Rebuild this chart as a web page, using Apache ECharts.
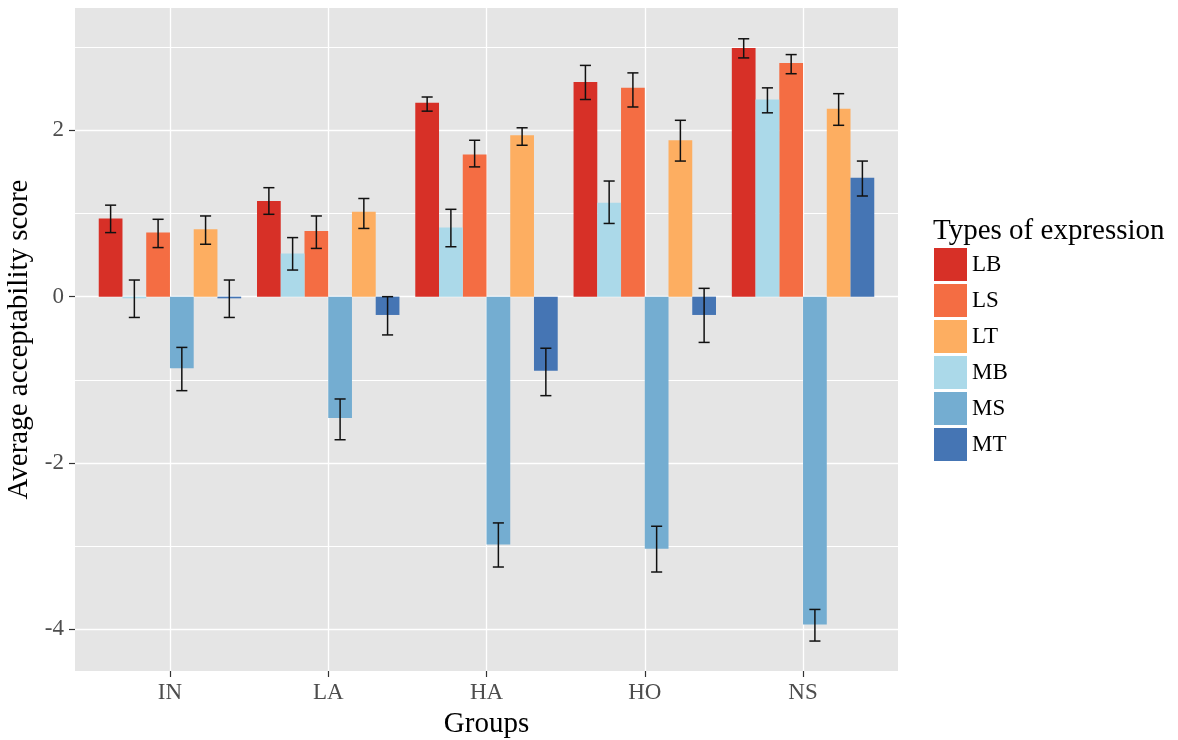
<!DOCTYPE html>
<html>
<head>
<meta charset="utf-8">
<title>Average acceptability score by group</title>
<script src="https://cdn.jsdelivr.net/npm/echarts@6/dist/echarts.min.js"></script>
<style>
    html, body { margin: 0; padding: 0; background: #ffffff; }
    #main { width: 1178px; height: 740px; }
</style>
</head>
<body>
<div id="main"></div>
<script>
    "use strict";
    // groups on the x axis
    var groups = ['IN', 'LA', 'HA', 'HO', 'NS'];
    // legend order / dodge order inside a group
    var legendTypes = ['LB', 'LS', 'LT', 'MB', 'MS', 'MT'];
    var dodgeTypes = ['LB', 'MB', 'LS', 'MS', 'LT', 'MT'];

    // mean scores per type (IN, LA, HA, HO, NS)
    var meanLB = [0.94, 1.15, 2.33, 2.58, 2.99];
    var meanLS = [0.77, 0.79, 1.71, 2.51, 2.81];
    var meanLT = [0.81, 1.02, 1.94, 1.88, 2.26];
    var meanMB = [-0.02, 0.52, 0.83, 1.13, 2.37];
    var meanMS = [-0.86, -1.46, -2.98, -3.03, -3.94];
    var meanMT = [-0.02, -0.22, -0.89, -0.22, 1.43];

    // error bar lower / upper ends
    var lowLB = [0.77, 0.99, 2.23, 2.37, 2.87];
    var highLB = [1.10, 1.31, 2.40, 2.78, 3.10];
    var lowLS = [0.59, 0.58, 1.56, 2.28, 2.68];
    var highLS = [0.93, 0.97, 1.88, 2.69, 2.91];
    var lowLT = [0.63, 0.82, 1.82, 1.63, 2.06];
    var highLT = [0.97, 1.18, 2.03, 2.12, 2.44];
    var lowMB = [-0.25, 0.32, 0.60, 0.88, 2.21];
    var highMB = [0.20, 0.71, 1.05, 1.39, 2.51];
    var lowMS = [-1.13, -1.72, -3.25, -3.31, -4.14];
    var highMS = [-0.61, -1.23, -2.72, -2.76, -3.76];
    var lowMT = [-0.25, -0.46, -1.19, -0.55, 1.21];
    var highMT = [0.20, 0.00, -0.62, 0.10, 1.63];

    // axis ticks
    var yMajorTicks = [-4, -2, 0, 2];
    var yMinorTicks = [-3, -1, 1, 3];
    var xTicks = [0, 1, 2, 3, 4];

    var seriesData = {
        LB: {mean: meanLB, low: lowLB, high: highLB, color: '#D73027'},
        LS: {mean: meanLS, low: lowLS, high: highLS, color: '#F46D43'},
        LT: {mean: meanLT, low: lowLT, high: highLT, color: '#FDAE61'},
        MB: {mean: meanMB, low: lowMB, high: highMB, color: '#ABD9E9'},
        MS: {mean: meanMS, low: lowMS, high: highMS, color: '#74ADD1'},
        MT: {mean: meanMT, low: lowMT, high: highMT, color: '#4575B4'}
    };

    var serif = '"Liberation Serif", "DejaVu Serif", serif';
    var barW = 0.9 / dodgeTypes.length;  // ggplot dodge width 0.9
    var capW = 0.035;

    function makeSeries(name) {
        var d = seriesData[name];
        var k = dodgeTypes.indexOf(name);
        var off = (k - (dodgeTypes.length - 1) / 2) * barW;
        return {
            type: 'custom',
            name: name,
            xAxisIndex: 0,
            yAxisIndex: 0,
            itemStyle: {color: d.color},
            encode: {x: 0, y: [1, 2, 3]},
            data: groups.map(function (g, i) {
                return [i, d.mean[i], d.low[i], d.high[i]];
            }),
            renderItem: function (params, api) {
                var cx = api.value(0) + off;
                var p1 = api.coord([cx - barW / 2, api.value(1)]);
                var p0 = api.coord([cx + barW / 2, 0]);
                var lo = api.coord([cx, api.value(2)]);
                var hi = api.coord([cx, api.value(3)]);
                var cl = api.coord([cx - capW, 0])[0];
                var cr = api.coord([cx + capW, 0])[0];
                var ey = {stroke: '#111111', lineWidth: 1.5};
                return {
                    type: 'group',
                    children: [{
                        type: 'rect',
                        shape: {
                            x: p1[0], y: Math.min(p1[1], p0[1]),
                            width: p0[0] - p1[0], height: Math.abs(p0[1] - p1[1])
                        },
                        style: {fill: d.color}
                    }, {
                        type: 'line',
                        shape: {x1: lo[0], y1: lo[1], x2: hi[0], y2: hi[1]},
                        style: ey
                    }, {
                        type: 'line',
                        shape: {x1: cl, y1: lo[1], x2: cr, y2: lo[1]},
                        style: ey
                    }, {
                        type: 'line',
                        shape: {x1: cl, y1: hi[1], x2: cr, y2: hi[1]},
                        style: ey
                    }]
                };
            }
        };
    }

    var chart = echarts.init(document.getElementById('main'));

    var option = {
        backgroundColor: '#ffffff',
        animation: false,
        title: {
            text: 'Types of expression',
            left: 933,
            top: 217,
            padding: 0,
            textStyle: {fontFamily: serif, fontSize: 29, fontWeight: 'normal', color: '#000000'}
        },
        legend: {
            data: legendTypes,
            orient: 'vertical',
            left: 934,
            top: 248,
            padding: 0,
            icon: 'rect',
            itemWidth: 33,
            itemHeight: 33,
            itemGap: 3,
            textStyle: {fontFamily: serif, fontSize: 23, color: '#000000'}
        },
        grid: {
            left: 75,
            right: 280,
            top: 8,
            bottom: 69,
            show: true,
            backgroundColor: '#E5E5E5',
            borderWidth: 0,
            containLabel: false,
            outerBoundsMode: 'none'
        },
        xAxis: [{
            type: 'value',
            min: -0.6,
            max: 4.6,
            name: 'Groups',
            nameLocation: 'middle',
            nameGap: 39,
            nameTextStyle: {fontFamily: serif, fontSize: 29, color: '#000000'},
            axisLine: {show: false, onZero: false},
            axisTick: {show: true, length: 6, customValues: xTicks, lineStyle: {color: '#333333', width: 1.2}},
            axisLabel: {
                customValues: xTicks,
                margin: 10,
                fontFamily: serif,
                fontSize: 23,
                color: '#4D4D4D',
                formatter: function (v) {
                    return groups[Math.round(v)];
                }
            },
            splitLine: {show: true, lineStyle: {color: '#ffffff', width: 1.3}}
        }],
        yAxis: [{
            type: 'value',
            min: -4.5,
            max: 3.47,
            name: 'Average acceptability score',
            nameLocation: 'middle',
            nameRotate: 90,
            nameGap: 40,
            nameTextStyle: {fontFamily: serif, fontSize: 29, color: '#000000'},
            axisLine: {show: false, onZero: false},
            axisTick: {show: true, length: 6, customValues: yMajorTicks, lineStyle: {color: '#333333', width: 1.2}},
            axisLabel: {
                customValues: yMajorTicks,
                margin: 11,
                fontFamily: serif,
                fontSize: 23,
                color: '#4D4D4D'
            },
            splitLine: {show: true, lineStyle: {color: '#ffffff', width: 1.3}}
        }, {
            type: 'value',
            min: -4.5,
            max: 3.47,
            position: 'left',
            axisLine: {show: false, onZero: false},
            axisTick: {show: false, customValues: yMinorTicks},
            axisLabel: {show: false, customValues: yMinorTicks},
            splitLine: {show: true, lineStyle: {color: '#ffffff', width: 1}}
        }],
        series: legendTypes.map(makeSeries)
    };

    chart.setOption(option);
</script>
</body>
</html>
